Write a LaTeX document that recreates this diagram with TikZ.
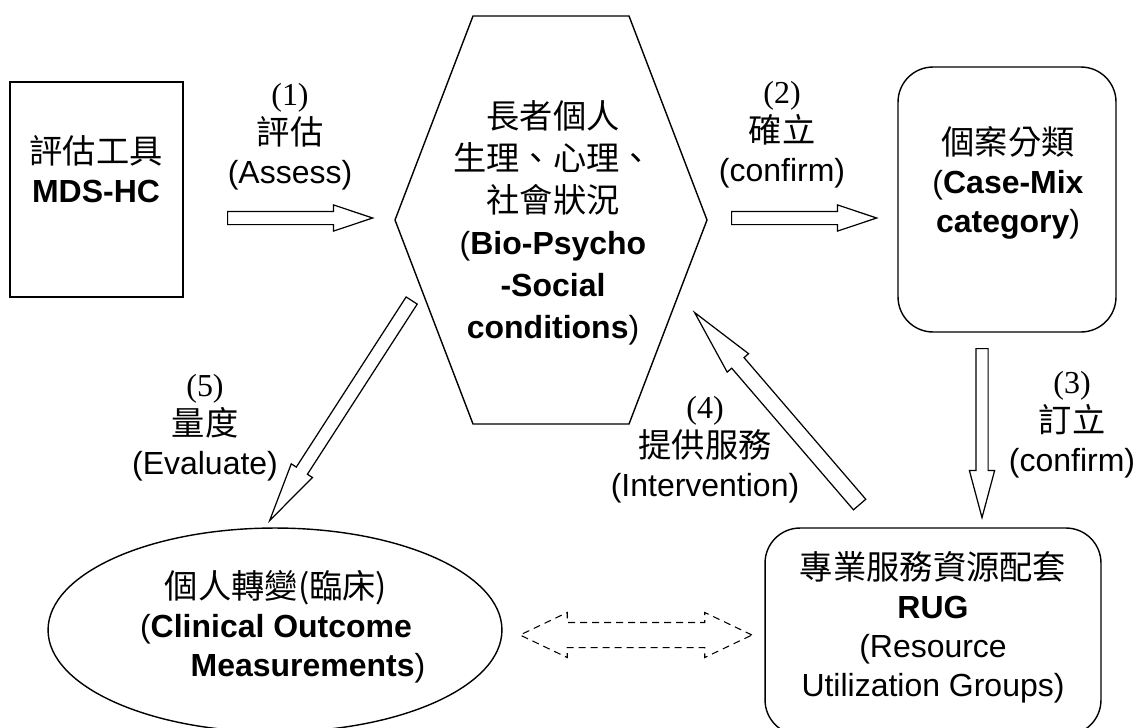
\documentclass[tikz,border=0pt]{standalone}
\usepackage{fontspec}
\setmainfont{Liberation Sans}
\newfontfamily\numfont{Liberation Serif}
\newfontfamily\cjk{Noto Sans CJK TC}[Scale=1.04]
\usetikzlibrary{shapes.arrows,shapes.geometric,calc}

\tikzset{
  txt/.style={align=center, inner sep=0pt, font=\fontsize{18.2}{22.2}\selectfont},
  hollowarrow/.style={single arrow, draw, line width=0.7pt, inner xsep=0pt, minimum width=0pt},
}

% hollow block arrow between two named points
\newcommand{\blockarrow}[3][]{%
  \path let \p1=($(#3)-(#2)$), \n1={atan2(\y1,\x1)}, \n2={veclen(\x1,\y1)} in
    (#2) node[hollowarrow, #1, rotate=\n1, minimum height=\n2, anchor=tail] {};%
}

\begin{document}
\begin{tikzpicture}[x=0.02cm, y=-0.02cm, line width=0.8pt]
    \useasboundingbox (0,0) rectangle (1141,727);

    % Assessment tool
    \node[draw, line width=1.1pt, minimum width=3.46cm, minimum height=4.3cm] (mds) at (96.5,189.5) {};
    \node[txt] (mdstext) at (96,169.5) {{\cjk 評估工具}\\\textbf{MDS-HC}};

    % Bio-psycho-social hexagon
    \draw (473,16) -- (629,16) -- (707,220) -- (629,424) -- (473,424) -- (395,220) -- cycle;
    \node[txt, font=\fontsize{18.2}{23.9}\selectfont] (bps) at (553,223)
        {{\cjk 長者個人}\\{\cjk 生理、心理、}\\{\cjk 社會狀況}\\(\textbf{Bio-Psycho}\\\textbf{-Social}\\\textbf{conditions})};

    % Case-mix category
    \node[draw, rounded corners=0.7cm, minimum width=4.36cm, minimum height=5.3cm] (casemix) at (1007,199.5) {};
    \node[txt] (casetext) at (1008,183) {{\cjk 個案分類}\\(\textbf{Case-Mix}\\\textbf{category})};

    % Resource utilization groups
    \node[draw, rounded corners=0.7cm, minimum width=6.72cm, minimum height=4.14cm] (rug) at (933,631.5) {};
    \node[txt] (rugtext) at (933,627) {{\cjk 專業服務資源配套}\\\textbf{RUG}\\(Resource\\Utilization Groups)};

    % Clinical outcome
    \node[draw, ellipse, minimum width=9.08cm, minimum height=4.08cm] (clinic) at (275,630) {};
    \node[txt] (clinictext) at (276,626.5)
        {{\cjk 個人轉變(臨床)}\\(\textbf{Clinical Outcome}\\\hspace*{0.64cm}\textbf{Measurements})\hspace*{-0.64cm}};

    % Arrow end points
    \coordinate (a1s) at (227,218);  \coordinate (a1e) at (372,218);
    \coordinate (a2s) at (731,218);  \coordinate (a2e) at (876,218);
    \coordinate (a3s) at (982,348);  \coordinate (a3e) at (982,517);
    \coordinate (a4s) at (860,505);  \coordinate (a4e) at (695,313);
    \coordinate (a5s) at (412,300);  \coordinate (a5e) at (270,520);
    \coordinate (dmid) at (636,635);

    % Block arrows
    \blockarrow[inner ysep=0.12cm, single arrow head extend=0.13cm, single arrow tip angle=37]{a1s}{a1e}
    \blockarrow[inner ysep=0.12cm, single arrow head extend=0.13cm, single arrow tip angle=37]{a2s}{a2e}
    \blockarrow[inner ysep=0.11cm, single arrow head extend=0.13cm, single arrow tip angle=30]{a3s}{a3e}
    \blockarrow[inner ysep=0.15cm, single arrow head extend=0.12cm, single arrow tip angle=24]{a4s}{a4e}
    \blockarrow[inner ysep=0.12cm, single arrow head extend=0.12cm, single arrow tip angle=24]{a5s}{a5e}

    % Dashed two-way arrow
    \node[double arrow, draw, dash pattern=on 0.14cm off 0.1cm, line width=0.6pt, inner xsep=0pt,
          inner ysep=0.24cm, minimum width=0pt, double arrow head extend=0.2cm,
          double arrow tip angle=51, minimum height=4.64cm] (link) at (dmid) {};

    % Step labels
    \node[txt] (step1) at (290,137) {{\numfont (1)}\\{\cjk 評估}\\(Assess)};
    \node[txt] (step2) at (782,135) {{\numfont (2)}\\{\cjk 確立}\\(confirm)};
    \node[txt] (step3) at (1072,425) {{\numfont (3)}\\{\cjk 訂立}\\(confirm)};
    \node[txt] (step4) at (705,450) {{\numfont (4)}\\{\cjk 提供服務}\\(Intervention)};
    \node[txt] (step5) at (205,428) {{\numfont (5)}\\{\cjk 量度}\\(Evaluate)};
\end{tikzpicture}
\end{document}
